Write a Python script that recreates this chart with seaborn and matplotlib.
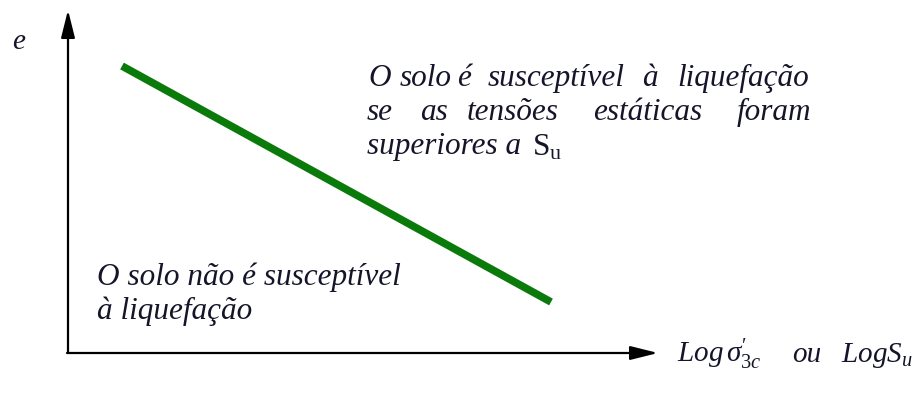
import matplotlib
matplotlib.use("Agg")
import matplotlib.pyplot as plt
import seaborn as sns
import pandas as pd

sns.set_theme(style="white")
plt.rcParams["font.family"] = ["Liberation Serif", "DejaVu Serif"]
plt.rcParams["mathtext.fontset"] = "custom"
plt.rcParams["mathtext.rm"] = "Liberation Serif"
plt.rcParams["mathtext.it"] = "Liberation Serif:italic"
plt.rcParams["mathtext.bf"] = "Liberation Serif:bold"

# Boundary line between the two soil states (schematic, canvas units)
boundary_x = [122, 551]
boundary_y = [66, 302]

# Justified upper text block: word start positions per line
upper_words = [
    [(368, "O"), (400, "solo"), (457, "é"), (488, "susceptível"), (642, "à"), (677, "liquefação")],
    [(367, "se"), (420, "as"), (467, "tensões"), (593, "estáticas"), (737, "foram")],
]
upper_line_y = [78, 112]
upper_last = "superiores a"
lower_lines = ["O solo não é susceptível", "à liquefação"]
lower_line_y = [277, 311]

# Horizontal axis label pieces
xlabel_parts = [(677, r"$Log\,\sigma^{\prime}_{3c}$"), (792, "ou"), (841, r"$LogS_u$")]

W, H = 914, 394
fig = plt.figure(figsize=(W / 100, H / 100), dpi=100)
ax = fig.add_axes([0, 0, 1, 1])
ax.set_xlim(0, W)
ax.set_ylim(H, 0)
ax.axis("off")

df = pd.DataFrame({"x": boundary_x, "y": boundary_y})
sns.lineplot(data=df, x="x", y="y", ax=ax, color="#0a7a0a", linewidth=5.5,
             solid_capstyle="butt", legend=False)

# Axes arrows
arrow = dict(arrowstyle="-|>,head_length=1.4,head_width=0.35", color="black",
             lw=1.6, shrinkA=0, shrinkB=0)
ax.annotate("", xy=(68, 10), xytext=(68, 353), arrowprops=arrow)
ax.annotate("", xy=(658, 353), xytext=(67, 353), arrowprops=arrow)

fs = 22.5
ink = "#15152a"
txt = dict(fontsize=fs, style="italic", color=ink, va="center", ha="left")

ax.text(12, 42, "e", fontsize=21, style="italic", color=ink, va="center", ha="left")

for words, y in zip(upper_words, upper_line_y):
    for x, w in words:
        ax.text(x, y, w, **txt)
ax.text(367, 146, upper_last, **txt)
ax.text(532, 148, r"$\mathrm{S}_{\mathrm{u}}$", fontsize=fs, color=ink,
        va="center", ha="left")

for line, y in zip(lower_lines, lower_line_y):
    ax.text(97, y, line, **txt)

for x, part in xlabel_parts:
    ax.text(x, 362, part, fontsize=21, style="italic", color=ink,
            va="baseline", ha="left")

fig.savefig("out.png", dpi=100)
